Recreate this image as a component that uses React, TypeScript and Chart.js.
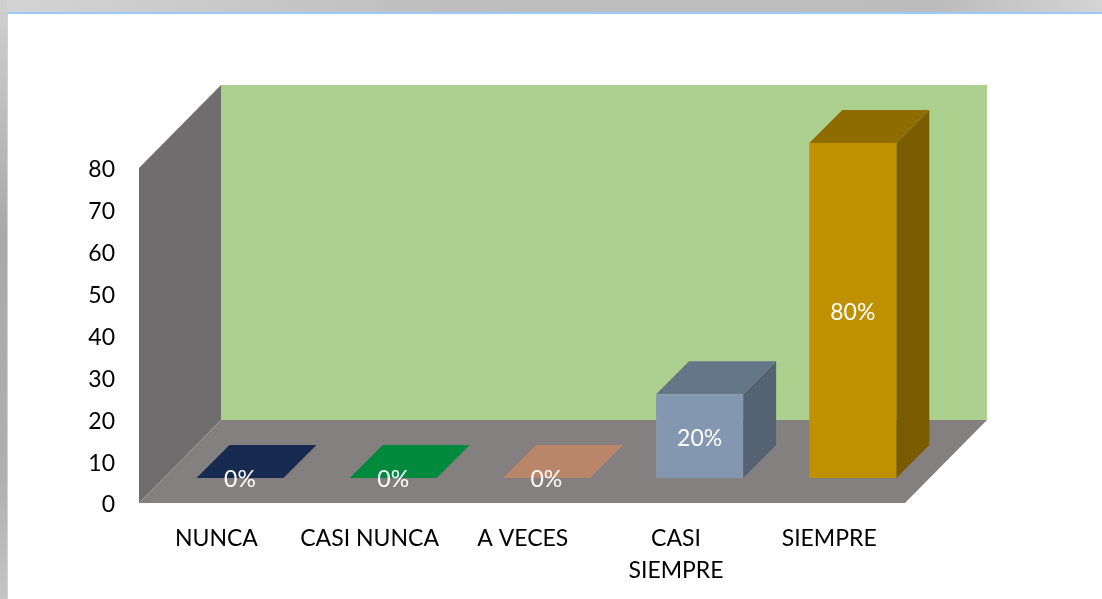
import React, { useEffect, useRef } from "react";
import { Chart, registerables } from "chart.js";

Chart.register(...registerables);

const categories: (string | string[])[] = ["NUNCA", "CASI NUNCA", "A VECES", ["CASI", "SIEMPRE"], "SIEMPRE"];
const percentValues = [0, 0, 0, 20, 80];
const valueLabels = ["0%", "0%", "0%", "20%", "80%"];
const frontColors = ["#1f3864", "#00a04a", "#d09a7a", "#8497b0", "#bf9000"];
const topColors = ["#172b50", "#008a3e", "#b9866a", "#667689", "#8f6c00"];
const sideColors = ["#152747", "#007a36", "#a87658", "#556272", "#7a5c00"];

const WALL_DX = 82;
const WALL_DY = 83;
const BAR_SHIFT_X = 24.4;
const BAR_SHIFT_Y = 25;
const BAR_DEPTH = 33;
const FONT = "Lato, Carlito, sans-serif";
const FONT_SIZE = 23;

function poly(ctx: CanvasRenderingContext2D, pts: number[][], fill: string) {
  ctx.beginPath();
  pts.forEach(([x, y], i) => (i ? ctx.lineTo(x, y) : ctx.moveTo(x, y)));
  ctx.closePath();
  ctx.fillStyle = fill;
  ctx.fill();
}

const scene3d = {
  id: "scene3d",
  beforeDraw(chart: any) {
    chart.scales.y.getLabelItems(chart.chartArea).forEach((it: any) => {
      it.options.translation[1] += 2;
    });
    chart.scales.x.getLabelItems(chart.chartArea).forEach((it: any) => {
      it.options.translation[0] += 0.8;
    });
  },
  beforeDatasetsDraw(chart: any) {
    const { ctx, chartArea: a } = chart;
    ctx.save();
    // back wall
    poly(ctx, [[a.left + WALL_DX, a.top - WALL_DY], [a.right + WALL_DX, a.top - WALL_DY], [a.right + WALL_DX, a.bottom - WALL_DY], [a.left + WALL_DX, a.bottom - WALL_DY]], "#acd18e");
    // side wall
    poly(ctx, [[a.left, a.top], [a.left + WALL_DX, a.top - WALL_DY], [a.left + WALL_DX, a.bottom - WALL_DY], [a.left, a.bottom]], "#6f6d6d");
    // floor
    poly(ctx, [[a.left, a.bottom], [a.right, a.bottom], [a.right + WALL_DX, a.bottom - WALL_DY], [a.left + WALL_DX, a.bottom - WALL_DY]], "#858080");
    // bar tops and sides
    const meta = chart.getDatasetMeta(0);
    meta.data.forEach((bar: any, i: number) => {
      const { x, y, base, width } = bar.getProps(["x", "y", "base", "width"], true);
      const l = x - width / 2 + BAR_SHIFT_X;
      const r = x + width / 2 + BAR_SHIFT_X;
      const t = y - BAR_SHIFT_Y;
      const b = base - BAR_SHIFT_Y;
      poly(ctx, [[r, t], [r + BAR_DEPTH, t - BAR_DEPTH], [r + BAR_DEPTH, b - BAR_DEPTH], [r, b]], sideColors[i]);
      poly(ctx, [[l, t], [r, t], [r + BAR_DEPTH, t - BAR_DEPTH], [l + BAR_DEPTH, t - BAR_DEPTH]], topColors[i]);
    });
    ctx.restore();
    ctx.save();
    ctx.translate(BAR_SHIFT_X, -BAR_SHIFT_Y);
  },
  afterDatasetsDraw(chart: any) {
    const { ctx } = chart;
    ctx.restore();
    ctx.save();
    ctx.font = `${FONT_SIZE}px ${FONT}`;
    ctx.fillStyle = "#ffffff";
    ctx.textAlign = "center";
    ctx.textBaseline = "middle";
    chart.getDatasetMeta(0).data.forEach((bar: any, i: number) => {
      const { x, y, base } = bar.getProps(["x", "y", "base"], true);
      ctx.fillText(valueLabels[i], x + BAR_SHIFT_X, (y + base) / 2 - BAR_SHIFT_Y + 2);
    });
    ctx.restore();
  },
};

export default function App() {
  const ref = useRef<HTMLCanvasElement>(null);
  useEffect(() => {
    document.body.style.margin = "0";
    document.body.style.overflow = "hidden";
    const chart = new Chart(ref.current!, {
      type: "bar",
      data: {
        labels: categories as any,
        datasets: [{ data: percentValues, backgroundColor: frontColors, barPercentage: 0.568, categoryPercentage: 1, borderWidth: 0 }],
      },
      plugins: [scene3d],
      options: {
        animation: false,
        responsive: false,
        events: [],
        layout: { padding: { top: 168, right: 197, left: 0, bottom: 0 } },
        plugins: { legend: { display: false }, tooltip: { enabled: false } },
        scales: {
          x: {
            grid: { display: false, drawTicks: false },
            border: { display: false },
            afterFit: (s: any) => { s.height = 96; },
            ticks: { color: "#000", maxRotation: 0, autoSkip: false, padding: 20, font: { family: FONT, size: FONT_SIZE, lineHeight: 1.38 } },
          },
          y: {
            min: 0,
            max: 80,
            grid: { display: false, drawTicks: false },
            border: { display: false },
            afterFit: (s: any) => { s.width = 139; },
            ticks: { color: "#000", stepSize: 10, padding: 24, font: { family: FONT, size: FONT_SIZE } },
          },
        },
      },
    } as any);
    return () => chart.destroy();
  }, []);
  return (
    <div style={{ position: "fixed", inset: 0, width: 1102, height: 599, overflow: "hidden", background: "#fff" }}>
      <div style={{ position: "absolute", left: 0, top: 0, width: 1102, height: 12, background: "linear-gradient(to right, #d4d4d4 0%, #bebebe 40%, #bcbcbc 85%, #d4d4d4 100%)" }} />
      <div style={{ position: "absolute", left: 0, top: 0, width: 7, height: 599, background: "linear-gradient(to bottom, #d0d0d0 0%, #a8a8a8 40%, #b0b0b0 80%, #c4c4c4 100%)" }} />
      <div style={{ position: "absolute", left: 7, top: 12, width: 1200, height: 700, background: "#fff", borderTop: "2px solid #9cc8f8", borderLeft: "1px solid #b8d8f8", boxSizing: "border-box" }} />
      <canvas ref={ref} width={1102} height={599} style={{ position: "absolute", left: 0, top: 0, display: "block" }} />
    </div>
  );
}
